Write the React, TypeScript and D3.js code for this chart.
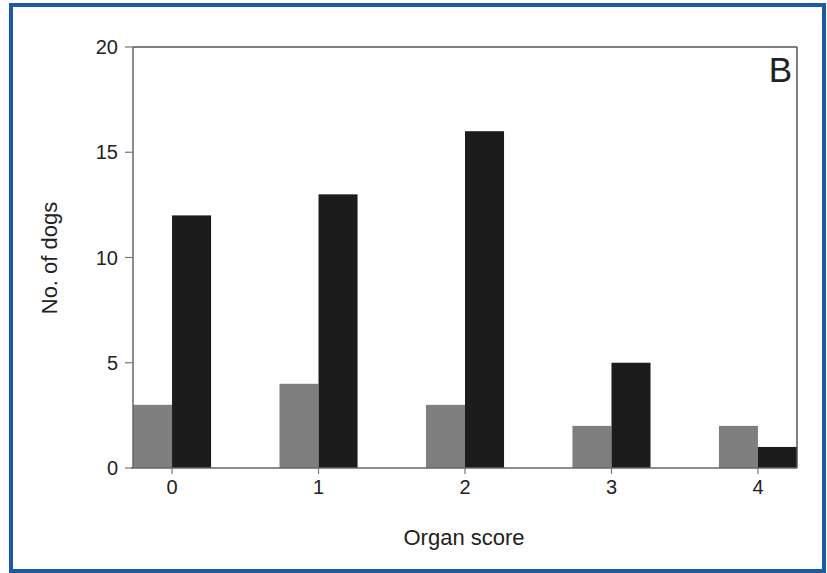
import React from "react";
import * as d3 from "d3";

const categories = ["0", "1", "2", "3", "4"];
const grayValues = [3, 4, 3, 2, 2];
const blackValues = [12, 13, 16, 5, 1];
const yTicks = [0, 5, 10, 15, 20];

const W = 827;
const H = 573;
const left = 133;
const right = 797;
const top = 47;
const bottom = 468;

export default function App() {
  const x = d3
    .scaleBand<string>()
    .domain(categories)
    .range([left, right])
    .paddingInner(0.467)
    .paddingOuter(0);
  const y = d3.scaleLinear().domain([0, 20]).range([bottom, top]);
  const bw = x.bandwidth() / 2;
  const font = "'Liberation Sans', Arial, sans-serif";

  return (
    <svg
      width={W}
      height={H}
      style={{ position: "absolute", left: 0, top: 0, background: "#fff" }}
    >
      <rect x={0} y={0} width={W} height={H} fill="#fff" />
      <rect x={11} y={5} width={813} height={566} fill="none" stroke="#1d5aa3" strokeWidth={4} />

      {categories.map((c, i) => (
        <g key={c}>
          <rect
            x={x(c)!}
            y={y(grayValues[i])}
            width={bw}
            height={bottom - y(grayValues[i])}
            fill="#7f7f7f"
          />
          <rect
            x={x(c)! + bw}
            y={y(blackValues[i])}
            width={bw}
            height={bottom - y(blackValues[i])}
            fill="#1c1c1c"
          />
        </g>
      ))}

      {/* frame */}
      <line x1={left} x2={right} y1={top} y2={top} stroke="#555" strokeWidth={1.5} />
      <line x1={right} x2={right} y1={top} y2={bottom} stroke="#555" strokeWidth={1.5} />
      <line x1={left} x2={left} y1={top} y2={bottom} stroke="#666" strokeWidth={1.5} />
      <line x1={left - 2} x2={right} y1={bottom} y2={bottom} stroke="#666" strokeWidth={1.5} />

      {yTicks.map((t) => (
        <g key={t}>
          <line x1={left - 8} x2={left} y1={y(t)} y2={y(t)} stroke="#777" strokeWidth={1.2} />
          <text
            x={left - 15}
            y={y(t)}
            dy="0.36em"
            textAnchor="end"
            fontFamily={font}
            fontSize={20}
            fill="#222"
          >
            {t}
          </text>
        </g>
      ))}

      {categories.map((c) => {
        const cx = x(c)! + bw;
        return (
          <g key={c}>
            <line x1={cx} x2={cx} y1={bottom} y2={bottom + 6} stroke="#777" strokeWidth={1.2} />
            <text
              x={cx}
              y={bottom + 26}
              textAnchor="middle"
              fontFamily={font}
              fontSize={20}
              fill="#222"
            >
              {c}
            </text>
          </g>
        );
      })}

      <text
        x={464}
        y={545}
        textAnchor="middle"
        fontFamily={font}
        fontSize={22}
        fill="#222"
      >
        Organ score
      </text>
      <text
        transform={`translate(57, 258) rotate(-90)`}
        textAnchor="middle"
        fontFamily={font}
        fontSize={22}
        fill="#222"
      >
        No. of dogs
      </text>
      <text
        x={792}
        y={82}
        textAnchor="end"
        fontFamily={font}
        fontSize={35}
        fill="#222"
      >
        B
      </text>
    </svg>
  );
}
